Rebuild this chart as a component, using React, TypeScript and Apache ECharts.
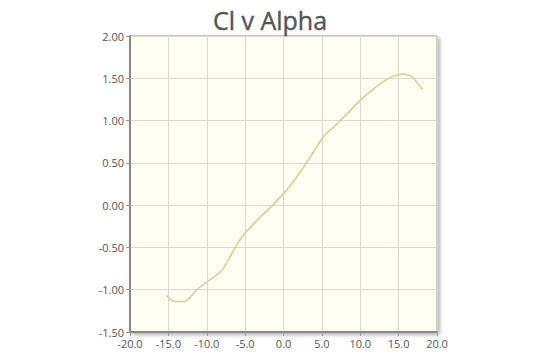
import React, { useEffect, useRef } from "react";
import * as echarts from "echarts";

const alpha = [-15.2, -14.5, -13.5, -12.8, -11.3, -10.0, -8.0, -6.1, -5.0, -3.0, -1.1, 0.8, 3.0, 5.2, 6.5, 8.2, 10.0, 12.1, 13.9, 15.6, 16.7, 18.1];
const cl = [-1.07, -1.13, -1.14, -1.14, -1.0, -0.91, -0.77, -0.47, -0.33, -0.14, 0.03, 0.22, 0.5, 0.81, 0.92, 1.07, 1.24, 1.4, 1.51, 1.55, 1.52, 1.37];
const titleText = "Cl v Alpha";

export default function App() {
  const ref = useRef<HTMLDivElement>(null);
  useEffect(() => {
    const chart = echarts.init(ref.current!, null, { renderer: "svg" });
    chart.setOption({
      animation: false,
      backgroundColor: "#ffffff",
      title: {
        text: titleText,
        left: "center",
        top: 2,
        textStyle: { fontFamily: "Open Sans", fontSize: 25, fontWeight: 500, color: "#555555", textBorderColor: "#555555", textBorderWidth: 0.4 },
      },
      grid: {
        left: 130,
        right: 103,
        top: 36,
        bottom: 29,
        show: true,
        backgroundColor: "#fdfdf2",
        borderColor: "#999999",
        borderWidth: 1,
        shadowColor: "rgba(0,0,0,0.35)",
        shadowBlur: 4,
        shadowOffsetX: 2,
        shadowOffsetY: 2,
      },
      xAxis: {
        type: "value",
        min: -20,
        max: 20,
        interval: 5,
        axisLine: { show: true, onZero: false, lineStyle: { color: "#888888", width: 2 } },
        axisTick: { show: true, length: 4, lineStyle: { color: "#999999" } },
        splitLine: { show: true, lineStyle: { color: "#dadad4", width: 1 } },
        axisLabel: {
          formatter: (v: number) => v.toFixed(1),
          color: "#555555",
          fontSize: 11,
          fontFamily: "Open Sans",
          margin: 6,
        },
      },
      yAxis: {
        type: "value",
        min: -1.5,
        max: 2,
        interval: 0.5,
        axisLine: { show: true, onZero: false, lineStyle: { color: "#888888", width: 2 } },
        axisTick: { show: true, length: 4, lineStyle: { color: "#999999" } },
        splitLine: { show: true, lineStyle: { color: "#dadad4", width: 1 } },
        axisLabel: {
          formatter: (v: number) => v.toFixed(2),
          color: "#555555",
          fontSize: 11,
          fontFamily: "Open Sans",
          margin: 6,
        },
      },
      series: [
        {
          type: "line",
          data: alpha.map((a, i) => [a, cl[i]]),
          smooth: 0.2,
          showSymbol: false,
          lineStyle: { color: "#d3d79a", width: 1.8 },
        },
      ],
    });
    return () => chart.dispose();
  }, []);
  return <div ref={ref} style={{ width: 540, height: 361, position: "absolute", left: 0, top: 0 }} />;
}
